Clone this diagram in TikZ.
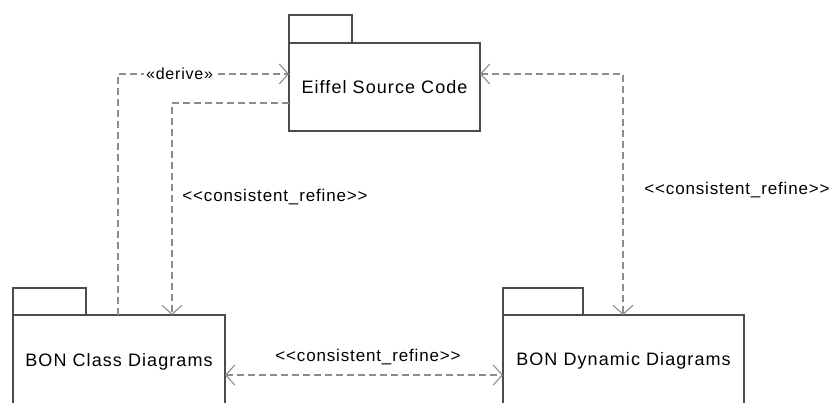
\documentclass[tikz,border=0pt]{standalone}
\usepackage{fontspec}
\setmainfont{Liberation Sans}
\newfontfamily\boxfont[LetterSpace=6]{Liberation Sans}
\newfontfamily\lblfont[LetterSpace=5]{Liberation Sans}
\usetikzlibrary{arrows.meta}
\begin{document}
\begin{tikzpicture}[x=1pt,y=-1pt,
  barb/.tip={Straight Barb[length=9pt,width=20pt,line width=1.1pt]},
  pkg/.style={draw=black!70,line width=1.3pt},
  conn/.style={draw=black!45,line width=1.1pt,dash pattern=on 7pt off 4pt},
  fwd/.style={conn,arrows={-barb}},
  both/.style={conn,arrows={barb-barb}},
  boxtext/.style={font=\boxfont\fontsize{18}{20}\selectfont},
  lbl/.style={font=\lblfont\fontsize{17}{19}\selectfont,fill=white,inner sep=2pt}]
\useasboundingbox (0,0) rectangle (832,403);
\clip (0,0) rectangle (832,403);
% Eiffel package
\draw[pkg] (289,43) rectangle (352,15);
\draw[pkg] (289,43) rectangle (480,131);
\node[boxtext] (eiffel) at (384.5,87) {Eiffel Source Code};
\coordinate (eL1) at (289,74);
\coordinate (eL2) at (289,103);
\coordinate (eR) at (480,74);
% BON Class
\draw[pkg] (13,315) rectangle (86,288);
\draw[pkg] (13,420) -- (13,315) -- (225,315) -- (225,420);
\node[boxtext] (bonc) at (119,362) {BON Class Diagrams};
\coordinate (cT1) at (118,315);
\coordinate (cT2) at (172,315);
\coordinate (cR) at (225,375);
% BON Dynamic
\draw[pkg] (503,315) rectangle (583,288);
\draw[pkg] (503,420) -- (503,315) -- (744,315) -- (744,420);
\node[boxtext] (bond) at (623.5,361) {BON Dynamic Diagrams};
\coordinate (dT) at (623,315);
\coordinate (dL) at (503,375);
% connectors
\draw[fwd] (cT1) |- node[lbl,font=\lblfont\fontsize{16}{18}\selectfont,pos=0.68] {«derive»} (eL1);
\draw[fwd] (eL2) -| (cT2);
\node[lbl] (l1) at (275,197) {<{}<consistent\_refine>{}>};
\draw[both] (eR) -| (dT);
\node[lbl] (l2) at (737,190) {<{}<consistent\_refine>{}>};
\draw[both] (cR) -- (dL);
\node[lbl] (l3) at (368,357) {<{}<consistent\_refine>{}>};
\end{tikzpicture}
\end{document}
